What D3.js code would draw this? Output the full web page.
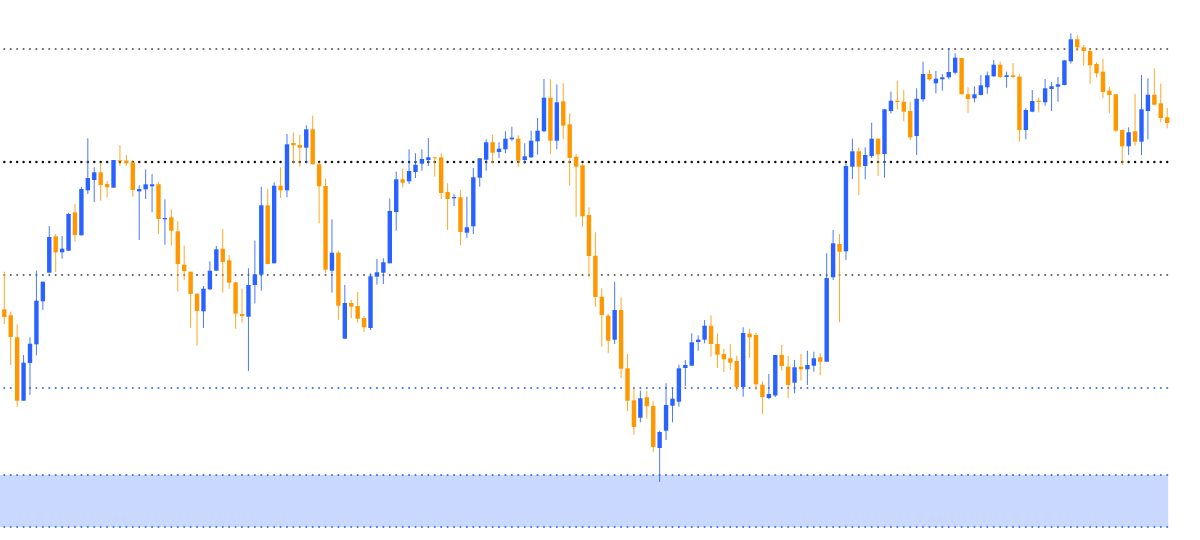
<!DOCTYPE html>
<html>
<head>
<meta charset="utf-8">
<script src="https://cdn.jsdelivr.net/npm/d3@7"></script>
<style>
  html, body { margin: 0; padding: 0; background: #fff; }
</style>
</head>
<body>
<svg id="chart"></svg>
<script>
// values, in arbitrary price units
const opens = [
  230.7,224.7,202.7,139.3,177,195.7,238.7,267.3,303.7,287.7,
  289.3,327.7,304.7,349.7,360,367.7,356,352.3,379.7,379.3,
  377.7,348.7,350.7,353.7,355.7,320.7,322.7,308.7,275.3,268.3,
  246.3,228.7,250.7,269.3,291.3,279.7,257.7,226,223.3,255,
  265.3,334.7,276.7,354.3,349.7,397,395,392.3,410.7,375.7,
  354,269.3,287.3,201.3,237,234,222,212,263.3,267.3,
  276.7,328,360.7,358.7,368,376.3,380,382.7,382.7,348,
  341.7,342.7,307.3,313.7,362.3,380.3,397.7,388,390.7,400.7,
  401.3,380,382.7,398.7,408.7,442.3,399.3,438.7,415.7,383.3,
  374.7,325,284.3,243.3,224.3,200.3,230,171.7,139.7,122.3,
  142.7,134,92,109.3,134.3,138.3,172,174.3,198,200.3,
  214.3,196,186,181.7,179,153,206.3,205,155.3,142,
  144.5,185,173.3,157.3,173.3,170.7,174.3,182.7,178.3,262.7,
  296,288.7,373.3,388.7,374,384,401.3,386,429,439.3,
  438.3,429,404,440.7,466,456.7,460.7,462.7,467.3,482,
  445.7,441.7,445,452.7,463.7,475.3,463,464.7,463.3,410,
  428.3,439.3,437.7,451,453.3,455,478.7,500.7,492.7,489,
  476,468.3,449.3,445.7,410,393.7,408.7,398.3,429,445.3,
  436.7,422.7
];
const closes = [
  223,203,139.3,177.3,196.3,239.3,258.3,303,287.7,291.3,
  326,305,351,362,367.7,355,352.7,380,378.7,376.7,
  350,351,355.7,355.7,321,322,309.3,276,269,246,
  229,251.3,269.3,290.7,278,257.3,226.3,224,255,265.7,
  334.7,276,354.3,349.7,395.7,394.7,392.3,410.7,375.7,353.7,
  270.3,287.3,234.3,237,233.3,221.3,212.7,263.7,267.7,277.7,
  329,360.7,357.3,369,375.3,381,382.7,382,347,341,
  343,308,312.7,362.7,381.7,397.7,387.3,391.3,401.3,402.3,
  379.3,383.7,399.3,409.3,442.3,399.3,437.7,414.3,382,373.3,
  323.7,284,243,225,199.3,230,171.3,139.3,113,141.7,
  133.7,93,108,135,141.3,171.7,175,197.7,200.3,214.3,
  196,185.3,180.7,177.3,153,207,202.7,155.7,143,146,
  185,174,155,172.7,170.7,175,181.7,178.3,262,296.7,
  288.3,374,388.7,373.3,385,401.3,385.7,430.7,439.3,438,
  428.3,402.7,441.3,466,460.7,461.3,462.7,468,482.3,445.7,
  441,445.7,454.7,464.7,475.3,463,464.7,463,410,430,
  439,438,451.7,453.7,455.7,479.7,500.7,492.7,489,474.7,
  466.7,448,445,409.3,393.7,407.7,398.3,430.7,445.3,435.3,
  422,417
];
const highs = [
  268.3,228.3,215.7,185,202.7,269.3,258.3,314,306,304,
  327.3,336,353.3,401.7,372.7,377.3,359,380,395,385,
  380,354.7,370.7,366,358.3,340.7,330.7,319,294.3,268.3,
  246.7,254,278.7,294,311,285,257.7,251.3,271.7,299.3,
  353.3,351,357.7,372.7,406,407.3,405.3,414.7,424.3,377.7,
  361.3,320.7,289.3,255,240,248,224,266.7,281,281.7,
  341.7,368.3,371.3,390.7,386.7,390.7,402,382.7,386.7,356.7,
  345.7,350,343.3,372,381.7,400.7,405.3,397.7,408.7,413.3,
  404.7,396.7,409.3,422,461,460.7,455.7,456.7,426.7,386,
  376,332.7,307.7,251.7,226,258.3,242.7,186,152.7,149.3,
  149.3,138.7,109.3,156.7,152.7,175.3,180,206.7,204.7,220,
  224.7,206.7,191.3,196,184.3,212.7,211.3,207.3,158.7,166,
  185,195,184,180,186,189.3,188.3,186.7,286.7,310,
  306,376.7,401.3,392.7,392.7,417.3,401.7,430.7,448.3,459.3,
  450,438.3,451.7,478.3,470,469,466,492,486.7,482,
  452.7,453.7,465,468.3,480,478.3,468.3,477,465.7,431.7,
  450,442.3,461,458,463,479.7,506.7,505,495,491,
  477.7,481,453,445.7,410.7,412.7,446.3,465,461.7,471.7,
  456.3,432
];
const lows = [
  216,175,133.3,139.3,145,184.7,230,267.3,268,281.3,
  289.3,298.3,304.7,346,338,339.3,342.7,352.3,374.3,374.3,
  343.3,300,341,327.7,306,295.3,294.7,248.3,260,212,
  194.3,212,250,269.3,247.3,251.3,211.3,217.3,169,236.7,
  249.3,276,276.7,342,342.7,377.3,373.3,376.7,375.7,316.7,
  266.7,247.3,220,201.3,222,217.3,208,210,255.3,256,
  276.7,309.3,352.7,356,362,369.3,374,363.3,341,310,
  334,294.7,302.3,306,353.3,369.3,376.7,382,386.7,399.3,
  372.7,376,382,385.3,408,386,390.7,400.7,354.3,323.3,
  313.3,262.7,233.3,193.3,186.7,196,162,128.7,105.3,117.7,
  121.3,87.7,58,100,117.7,133.3,154,174,189.3,196.7,
  183.3,172,168,170,149.3,143.3,182,150,126.3,140.7,
  143,169.5,142,146.7,159.3,155,168.3,165,178.3,260,
  217.7,280,361,345,360.7,382,364,362.3,426.7,430.7,
  418.7,400,385,438.3,459.3,446.7,449.3,460.7,465.7,445.7,
  427.3,437.7,444.7,446.3,463.3,462.3,452.3,461.7,398.3,400.7,
  427.7,427.7,434.3,429,438.3,454.7,476.3,489,474.3,456.3,
  462.3,441.7,426.7,408.3,375,385,394.3,385,400.7,435,
  417.7,411.7
];

const levelsGray = [491, 265];
const levelsBlack = [378];
const levelsBlue = [152, 65, 13];
const band = [13, 65];

const width = 1200;
const height = 540;
const blue = "#2962ff";
const orange = "#ff9800";

const candles = opens.map((o, i) => ({ i, o, c: closes[i], h: highs[i], l: lows[i] }));

const svg = d3.select("#chart")
  .attr("width", width)
  .attr("height", height)
  .style("display", "block");

const x = d3.scaleLinear().domain([0, candles.length - 1]).range([4.3, 1167.2]);
const y = d3.scaleLinear().domain([0, 540]).range([540, 0]);

// shaded zone behind everything, runs from the left edge to the last candle
svg.append("rect")
  .attr("x", 0)
  .attr("width", x(candles.length - 1) + 1)
  .attr("y", y(band[1]))
  .attr("height", y(band[0]) - y(band[1]))
  .attr("fill", blue)
  .attr("fill-opacity", 0.25);

// the level lines are one dot per candle
const drawLevel = (levels, color, opacity, r) => {
  levels.forEach(level => {
    svg.append("g")
      .selectAll("circle")
      .data(candles)
      .join("circle")
        .attr("cx", d => x(d.i))
        .attr("cy", y(level))
        .attr("r", r)
        .attr("fill", color)
        .attr("fill-opacity", opacity);
  });
};

drawLevel(levelsGray, "#444444", 0.85, 1.05);
drawLevel(levelsBlack, "#111111", 1, 1.25);
drawLevel(levelsBlue, blue, 0.9, 1.05);

const color = d => d.c >= d.o ? blue : orange;

const marks = svg.append("g");

marks.selectAll("line.wick")
  .data(candles)
  .join("line")
    .attr("class", "wick")
    .attr("x1", d => x(d.i))
    .attr("x2", d => x(d.i))
    .attr("y1", d => y(d.h))
    .attr("y2", d => y(d.l))
    .attr("stroke", color)
    .attr("stroke-opacity", 0.85)
    .attr("stroke-width", 1);

marks.selectAll("rect.body")
  .data(candles)
  .join("rect")
    .attr("class", "body")
    .attr("x", d => x(d.i) - 2.2)
    .attr("width", 4.4)
    .attr("y", d => y(Math.max(d.o, d.c)))
    .attr("height", d => Math.max(1, Math.abs(y(d.o) - y(d.c))))
    .attr("fill", color);
</script>
</body>
</html>
